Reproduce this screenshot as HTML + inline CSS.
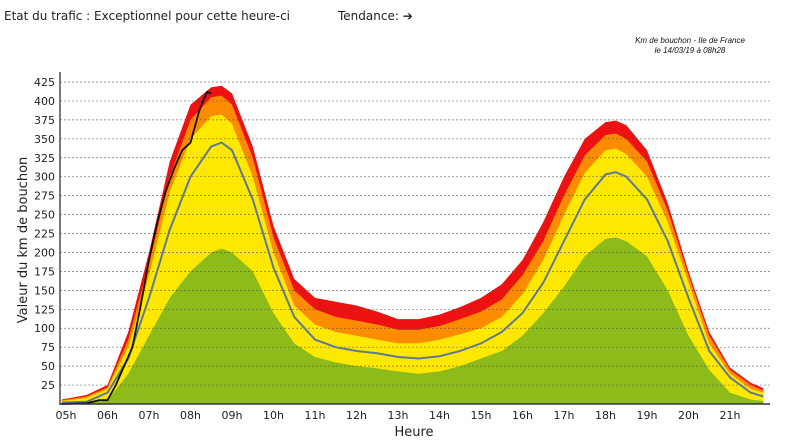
<!DOCTYPE html>
<html><head><meta charset="utf-8"><style>
body{margin:0;width:792px;height:445px;background:#fff;overflow:hidden;font-family:"DejaVu Sans","Liberation Sans",sans-serif}
.t{position:absolute;font-size:12px;color:#222}
</style></head><body>
<div class="t" style="left:4px;top:9px">Etat du trafic : Exceptionnel pour cette heure-ci</div>
<div class="t" style="left:338px;top:9px">Tendance: <b>➔</b></div>
<div style="position:absolute;left:600px;top:36px;width:180px;text-align:center;font:italic 8px 'Liberation Sans',sans-serif;line-height:10px;color:#111">Km de bouchon - Ile de France<br>le 14/03/19 à 08h28</div>
<svg id="c" width="792" height="445" style="position:absolute;left:0;top:0"></svg>
<script>
const hours=[4.9,5.5,6,6.5,7,7.5,8,8.5,8.75,9,9.5,10,10.5,11,11.5,12,12.5,13,13.5,14,14.5,15,15.5,16,16.5,17,17.5,18,18.25,18.5,19,19.5,20,20.5,21,21.5,21.8];
const green=[0,1,5,40,90,140,175,200,205,200,175,120,80,62,55,50,47,43,40,43,50,60,70,90,120,155,195,218,220,215,195,150,90,45,15,6,4];
const yellow=[4,8,20,75,170,280,350,380,382,370,300,200,130,105,95,90,85,80,80,85,92,100,115,145,190,250,305,335,337,330,300,240,160,80,40,20,15];
const orange=[5,10,22,85,185,300,375,405,407,395,325,220,150,125,115,110,105,98,98,103,112,122,138,170,215,275,328,355,357,350,320,255,170,90,45,25,18];
const red=[6,12,25,95,200,320,395,418,420,410,340,235,165,140,135,130,122,112,112,118,128,140,158,190,240,300,350,372,374,368,335,265,175,95,48,28,21];
const mean=[2,3,15,60,140,230,300,340,345,335,270,180,115,85,75,70,67,62,60,63,70,80,95,120,160,215,270,303,306,300,270,215,140,70,35,15,10];
const actualHours=[4.9,5.5,5.8,6,6.2,6.4,6.6,6.8,7,7.2,7.4,7.6,7.8,8,8.2,8.3,8.4,8.5];
const actualVals=[0,1,5,5,25,50,75,130,190,240,280,310,335,345,385,400,412,410];
const yTicks=[25,50,75,100,125,150,175,200,225,250,275,300,325,350,375,400,425];
const xTicks=["05h","06h","07h","08h","09h","10h","11h","12h","13h","14h","15h","16h","17h","18h","19h","20h","21h"];
const svg=document.getElementById('c');const NS='http://www.w3.org/2000/svg';
const X=h=>66+(h-5)*41.5, Y=v=>404-v*(322/425);
function mk(t,a){const e=document.createElementNS(NS,t);for(const k in a)e.setAttribute(k,a[k]);svg.appendChild(e);return e;}
function area(hs,vs){let d='M'+X(hs[0])+','+Y(0);hs.forEach((h,i)=>d+='L'+X(h)+','+Y(vs[i]));return d+'L'+X(hs[hs.length-1])+','+Y(0)+'Z';}
function line(hs,vs){return hs.map((h,i)=>(i?'L':'M')+X(h)+','+Y(vs[i])).join('');}
let e;
e=mk('path',{d:area(hours,red),fill:'#ee1111'});
e=mk('path',{d:area(hours,orange),fill:'#fb8c00'});
e=mk('path',{d:area(hours,yellow),fill:'#ffe800'});
e=mk('path',{d:area(hours,green),fill:'#8dbb1a'});
yTicks.forEach(v=>{
 e=mk('line',{x1:60,x2:770,y1:Y(v),y2:Y(v),stroke:'#555','stroke-width':0.7,'stroke-dasharray':'2,2',opacity:0.8});
 
 e=mk('text',{x:55,y:Y(v)+4,'text-anchor':'end','font-size':11,fill:'#222'});e.textContent=v;
 
});
e=mk('path',{d:line(hours,mean),fill:'none',stroke:'#5d7a92','stroke-width':2});
e=mk('path',{d:line(actualHours,actualVals),fill:'none',stroke:'#111','stroke-width':1.8});
e=mk('line',{x1:60,x2:60,y1:72,y2:405,stroke:'#222','stroke-width':1.2});
e=mk('line',{x1:60,x2:770,y1:404,y2:404,stroke:'#333','stroke-width':1.5});
xTicks.forEach((l,i)=>{e=mk('text',{x:X(5+i),y:419,'text-anchor':'middle','font-size':11,fill:'#222'});e.textContent=l;
 });
e=mk('text',{x:414,y:436,'text-anchor':'middle','font-size':13,fill:'#222'});e.textContent='Heure';
e=mk('text',{x:0,y:0,'text-anchor':'middle','font-size':13,fill:'#222',transform:'translate(27,240) rotate(-90)'});e.textContent='Valeur du  km de bouchon';
</script>
</body></html>
